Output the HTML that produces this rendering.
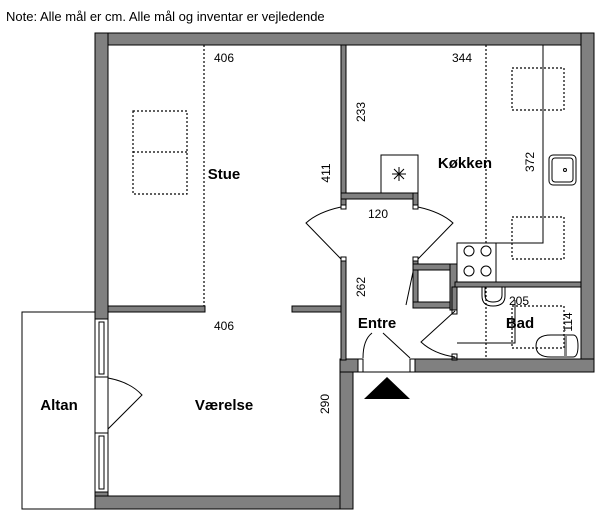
<!DOCTYPE html>
<html><head><meta charset="utf-8"><style>
html,body{margin:0;padding:0;background:#fff;}
svg{display:block;}
text{font-family:"Liberation Sans",sans-serif;fill:#000;}
.b{font-weight:bold;font-size:15px;}
.d{font-size:12px;}
</style></head><body>
<svg width="600" height="525" viewBox="0 0 600 525" xmlns="http://www.w3.org/2000/svg">
<text x="6" y="21" font-size="13">Note: Alle mål er cm. Alle mål og inventar er vejledende</text>
<!-- altan -->
<rect x="22" y="312" width="73" height="197" fill="#fff" stroke="#000" stroke-width="1"/>
<!-- outer walls grey -->
<g fill="#808080" stroke="#000" stroke-width="1">
<!-- top -->
<rect x="95" y="33" width="499" height="12"/>
<!-- left upper -->
<rect x="95" y="33" width="13" height="286"/>
<!-- left lower corners -->
<rect x="95" y="492" width="13" height="17"/>
<!-- right -->
<rect x="581" y="33" width="13" height="339"/>
<!-- bottom værelse -->
<rect x="95" y="496" width="258" height="13"/>
<!-- værelse right wall -->
<rect x="340" y="359" width="13" height="150"/>
<!-- entre bottom -->
<rect x="340" y="359" width="18" height="13"/>
<rect x="415" y="359" width="179" height="13"/>
<!-- stue/kitchen interior wall -->
<rect x="341" y="45" width="5" height="162"/>
<rect x="341" y="193" width="77" height="6"/>
<rect x="413" y="193" width="5" height="14"/>
<rect x="341" y="259" width="5" height="101"/>
<!-- stue/værelse partition -->
<rect x="108" y="306" width="97" height="6"/>
<rect x="292" y="306" width="49" height="6"/>
<!-- closet -->
<rect x="413" y="259" width="5" height="49"/>
<rect x="413" y="264" width="44" height="6"/>
<rect x="413" y="302" width="44" height="6"/>
<rect x="450" y="264" width="7" height="46"/>
<!-- kitchen/bath wall -->
<rect x="455" y="282" width="126" height="5"/>
<rect x="452" y="287" width="5" height="23"/>
<rect x="452" y="357" width="5" height="3"/>
</g>
<!-- door frames small white stubs -->
<g fill="#fff" stroke="#000" stroke-width="1">
<rect x="341" y="205" width="5" height="4"/><rect x="341" y="257" width="5" height="4"/>
<rect x="413" y="205" width="5" height="4"/><rect x="413" y="257" width="5" height="4"/>
<rect x="452" y="310" width="5" height="4"/><rect x="452" y="354" width="5" height="4"/>
<rect x="358" y="359" width="5" height="13"/><rect x="410" y="359" width="5" height="13"/>
<!-- windows -->
<rect x="95" y="319" width="13" height="58"/><rect x="99" y="322" width="5" height="52"/>
<rect x="95" y="433" width="13" height="59"/><rect x="99" y="436" width="5" height="53"/>
<rect x="95" y="377" width="13" height="56"/>
</g>
<line x1="353" y1="372" x2="594" y2="372" stroke="#000"/>
<!-- doors -->
<g fill="none" stroke="#000" stroke-width="1">
<path d="M341,207 Q318,212 306,223 L341,259"/>
<path d="M418,207 Q441,212 453,223 L418,259"/>
<path d="M108,378 Q130,382 142,395 L108,429"/>
<path d="M363,358 Q363,340 372,333"/>
<path d="M383,333 L410,358"/>
<path d="M455,311 L421,342 Q434,354 455,357"/>
<path d="M413,272 L406,305"/>
</g>
<!-- entrance triangle -->
<polygon points="387,377 410,399 364,399" fill="#000"/>
<!-- kitchen counter -->
<g fill="none" stroke="#000" stroke-width="1">
<path d="M543,45 L543,243 L457,243"/>
<rect x="457" y="243" width="39" height="39" fill="#fff"/>
<circle cx="469" cy="251" r="5"/><circle cx="486" cy="251" r="5"/>
<circle cx="469" cy="271" r="5"/><circle cx="486" cy="271" r="5"/>
<rect x="381" y="155" width="37" height="38" fill="#fff"/>
<path d="M392,174 H406 M399,167 V181 M394,169 L404,179 M404,169 L394,179"/>
<rect x="549" y="155" width="27" height="30" rx="4"/>
<rect x="552" y="158" width="21" height="24" rx="3"/>
<circle cx="565" cy="170" r="1.5"/>
<!-- bath -->
<path d="M457,343 L515,343 L515,300"/>
<path d="M482,287 L482,296 Q482,306 493,306 Q505,306 505,296 L505,287"/>
<path d="M485,287 L485,295 Q485,302 493,302 Q502,302 502,295 L502,287"/>
<path d="M551,335 L573,335 Q578,335 578,346 Q578,357 573,357 L551,357 Q536,357 536,346 Q536,335 551,335 Z"/>
</g>
<rect x="564" y="335" width="3" height="22" fill="#888"/>
<!-- dotted -->
<g fill="none" stroke="#000" stroke-width="1.2" stroke-dasharray="2,2">
<line x1="204" y1="45" x2="204" y2="306"/>
<rect x="133" y="111" width="54" height="83"/>
<line x1="133" y1="152" x2="187" y2="152"/>
<line x1="486" y1="45" x2="486" y2="243"/>
<line x1="486" y1="287" x2="486" y2="359"/>
<rect x="512" y="68" width="52" height="42"/>
<rect x="512" y="217" width="52" height="42"/>
<rect x="512" y="306" width="52" height="42"/>
</g>
<!-- labels -->
<text class="d" x="224" y="62" text-anchor="middle">406</text>
<text class="d" x="462" y="62" text-anchor="middle">344</text>
<text class="d" x="378" y="218" text-anchor="middle">120</text>
<text class="d" x="519" y="305" text-anchor="middle">205</text>
<text class="d" x="224" y="330" text-anchor="middle">406</text>
<text class="d" transform="translate(365,112) rotate(-90)" text-anchor="middle">233</text>
<text class="d" transform="translate(330,173) rotate(-90)" text-anchor="middle">411</text>
<text class="d" transform="translate(534,162) rotate(-90)" text-anchor="middle">372</text>
<text class="d" transform="translate(365,287) rotate(-90)" text-anchor="middle">262</text>
<text class="d" transform="translate(572,322) rotate(-90)" text-anchor="middle">114</text>
<text class="d" transform="translate(329,404) rotate(-90)" text-anchor="middle">290</text>
<text class="b" x="224" y="179" text-anchor="middle">Stue</text>
<text class="b" x="465" y="168" text-anchor="middle">Køkken</text>
<text class="b" x="377" y="328" text-anchor="middle">Entre</text>
<text class="b" x="520" y="328" text-anchor="middle">Bad</text>
<text class="b" x="59" y="410" text-anchor="middle">Altan</text>
<text class="b" x="224" y="410" text-anchor="middle">Værelse</text>
</svg>
</body></html>
